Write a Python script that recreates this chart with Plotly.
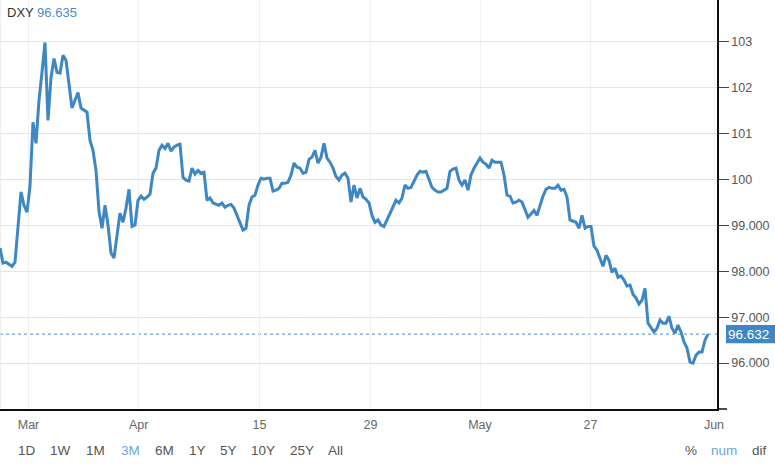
import plotly.graph_objects as go

# ---------------- data ----------------
dxy_values = [
    98.51, 98.18, 98.20, 98.16, 98.11, 98.20, 99.01, 99.73, 99.44, 99.29,
    99.86, 101.25, 100.79, 101.73, 102.34, 102.99, 101.29, 102.23, 102.64, 102.34,
    102.32, 102.71, 102.60, 102.06, 101.56, 101.73, 101.90, 101.56, 101.51, 101.47,
    100.86, 100.64, 100.20, 99.31, 98.94, 99.44, 99.01, 98.40, 98.29, 98.85,
    99.27, 99.07, 99.38, 99.79, 98.98, 99.01, 99.55, 99.64, 99.57, 99.62,
    99.68, 100.14, 100.25, 100.64, 100.75, 100.68, 100.79, 100.62, 100.71, 100.75,
    100.77, 100.05, 99.99, 99.97, 100.25, 100.12, 100.20, 100.14, 100.16, 99.55,
    99.60, 99.49, 99.46, 99.44, 99.49, 99.40, 99.44, 99.46, 99.38, 99.22,
    99.07, 98.90, 98.94, 99.44, 99.62, 99.66, 99.88, 100.03, 100.01, 100.03,
    100.03, 99.75, 99.77, 99.81, 99.92, 99.92, 99.94, 100.10, 100.36, 100.27,
    100.25, 100.14, 100.16, 100.44, 100.49, 100.64, 100.36, 100.49, 100.79, 100.47,
    100.38, 100.25, 100.07, 99.99, 100.10, 100.14, 100.03, 99.51, 99.88, 99.60,
    99.81, 99.62, 99.57, 99.49, 99.22, 99.07, 99.12, 99.01, 98.98, 99.12,
    99.25, 99.38, 99.55, 99.49, 99.60, 99.88, 99.81, 99.83, 99.97, 100.10,
    100.18, 100.16, 100.18, 99.99, 99.83, 99.77, 99.73, 99.73, 99.77, 99.81,
    100.18, 100.23, 100.25, 99.99, 99.88, 99.99, 99.77, 100.10, 100.25, 100.36,
    100.47, 100.38, 100.34, 100.25, 100.42, 100.38, 100.38, 100.38, 100.10, 99.66,
    99.64, 99.49, 99.51, 99.55, 99.51, 99.33, 99.18, 99.25, 99.33, 99.22,
    99.44, 99.64, 99.79, 99.83, 99.81, 99.81, 99.88, 99.77, 99.79, 99.62,
    99.12, 99.09, 99.07, 98.94, 99.22, 98.94, 98.98, 98.98, 98.55, 98.46,
    98.29, 98.11, 98.35, 98.24, 97.98, 98.07, 97.87, 97.90, 97.81, 97.68,
    97.70, 97.50, 97.42, 97.29, 97.37, 97.63, 96.87, 96.78, 96.68, 96.76,
    96.94, 96.87, 96.87, 97.02, 96.76, 96.65, 96.83, 96.68, 96.46, 96.33,
    96.02, 96.00, 96.17, 96.24, 96.24, 96.50, 96.632,
]
sample_index = list(range(len(dxy_values)))

x_tick_labels = ["Mar", "Apr", "15", "29", "May", "27", "Jun"]
x_tick_at_sample = [9.5, 46.2, 86.5, 123.5, 160.0, 196.8, 238.0]

y_tick_values = [96, 97, 98, 99, 100, 101, 102, 103]
y_tick_labels = ["96.000", "97.000", "98.000", "99.000", "100", "101", "102", "103"]

last_price = 96.632
last_price_label = "96.632"
header_symbol = "DXY"
header_value = "96.635"

range_buttons = ["1D", "1W", "1M", "3M", "6M", "1Y", "5Y", "10Y", "25Y", "All"]
active_range = "3M"
mode_buttons = ["%", "num", "dif"]
active_mode = "num"

# ---------------- layout constants ----------------
W, H = 775, 464
PLOT_W, PLOT_H = 717, 409
BLUE = "#3d87c5"
LIGHT_BLUE = "#6aa6d8"
FONT = "Liberation Sans, Arial, sans-serif"

range_button_px = [27, 60, 96, 130, 164, 197, 228, 263, 302, 335]
mode_button_px = [691, 724, 759]
button_row_px = 450


def px_x(p):
    return p / PLOT_W


def px_y(p):
    return 1 - p / PLOT_H


fig = go.Figure()

fig.add_trace(go.Scatter(
    x=sample_index, y=dxy_values, mode="lines",
    line=dict(color=BLUE, width=3), hoverinfo="skip", showlegend=False,
))

shapes = [
    # dotted last-price line
    dict(type="line", xref="paper", yref="y", x0=0, x1=1, y0=last_price, y1=last_price,
         line=dict(color="#4a8cc7", width=1, dash="dot"), layer="below"),
    # faint left border
    dict(type="line", xref="paper", yref="paper", x0=0, x1=0, y0=0, y1=1,
         line=dict(color="#e8e8e8", width=1.5), layer="below"),
    # bottom axis extension past the price axis
    dict(type="line", xref="paper", yref="paper", x0=1, x1=1 + 10 / PLOT_W, y0=0, y1=0,
         line=dict(color="#111111", width=1.5)),
    # last-price box
    dict(type="rect", xref="paper", yref="y", x0=1 + 9 / PLOT_W, x1=1 + 58 / PLOT_W,
         y0=last_price - 0.2, y1=last_price + 0.2, fillcolor=BLUE, line=dict(width=0)),
]

annotations = [
    dict(xref="paper", yref="paper", x=px_x(5), y=px_y(13), xanchor="left", yanchor="middle",
         text=f"{header_symbol} <span style='color:#4a8cc7'>{header_value}</span>",
         showarrow=False, font=dict(family=FONT, size=13, color="#333333")),
    dict(xref="paper", yref="y", x=1 + 32 / PLOT_W, y=last_price, xanchor="center", yanchor="middle",
         text=last_price_label, showarrow=False, font=dict(family=FONT, size=13.5, color="white")),
]

for label, p in zip(range_buttons, range_button_px):
    annotations.append(dict(
        xref="paper", yref="paper", x=px_x(p), y=px_y(button_row_px), xanchor="center", yanchor="middle",
        text=label, showarrow=False,
        font=dict(family=FONT, size=13.5, color=LIGHT_BLUE if label == active_range else "#555555"),
    ))
for label, p in zip(mode_buttons, mode_button_px):
    annotations.append(dict(
        xref="paper", yref="paper", x=px_x(p), y=px_y(button_row_px), xanchor="center", yanchor="middle",
        text=label, showarrow=False,
        font=dict(family=FONT, size=13.5, color=LIGHT_BLUE if label == active_mode else "#555555"),
    ))

fig.update_layout(
    width=W, height=H,
    margin=dict(l=0, r=W - PLOT_W, t=0, b=H - PLOT_H),
    paper_bgcolor="white", plot_bgcolor="white",
    showlegend=False,
    shapes=shapes,
    annotations=annotations,
    xaxis=dict(
        range=[0, 239], tickmode="array", tickvals=x_tick_at_sample, ticktext=x_tick_labels,
        showgrid=True, gridcolor="#f0f0f0", gridwidth=1, zeroline=False,
        showline=True, linecolor="#111111", linewidth=1.5, ticks="",
        ticklabelstandoff=3,
        tickfont=dict(family=FONT, size=12.5, color="#666666"), fixedrange=True,
    ),
    yaxis=dict(
        side="right", range=[95.0, 103.915], tickmode="array",
        tickvals=y_tick_values, ticktext=y_tick_labels,
        showgrid=True, gridcolor="#e6e6e6", gridwidth=1, zeroline=False,
        showline=True, linecolor="#111111", linewidth=1.5,
        ticks="outside", ticklen=10, tickcolor="#444444", tickwidth=1,
        tickfont=dict(family=FONT, size=12.5, color="#555555"), fixedrange=True,
    ),
)

fig.write_html("out.html", config={"displayModeBar": False})
